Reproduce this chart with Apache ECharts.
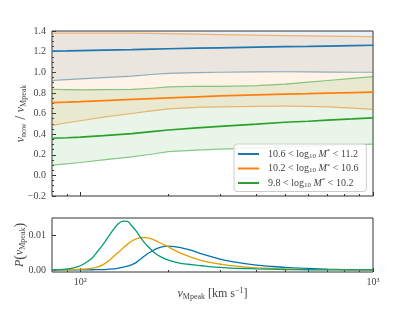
<!DOCTYPE html>
<html><head><meta charset="utf-8">
<script src="https://cdn.jsdelivr.net/npm/echarts@6/dist/echarts.min.js"></script>
<style>html,body{margin:0;padding:0;background:#fff}#c{width:415px;height:312px}</style>
</head><body><div id="c"></div>
<script>
// ---- data: top panel (v_now / v_Mpeak vs v_Mpeak) ----
const vGrid = [80, 90, 100, 120, 150, 175, 200, 250, 300, 400, 500, 600, 700, 850, 1000];
const blueUpper  = [1.5, 1.5, 1.5, 1.5, 1.5, 1.5, 1.5, 1.5, 1.5, 1.5, 1.5, 1.5, 1.5, 1.5, 1.5];
const blueMedian = [1.205, 1.207, 1.21, 1.215, 1.22, 1.225, 1.228, 1.233, 1.237, 1.243, 1.248, 1.251, 1.254, 1.258, 1.262];
const blueLower  = [0.92, 0.928, 0.935, 0.948, 0.963, 0.978, 0.99, 0.996, 1.0, 1.003, 1.005, 1.004, 1.002, 1.0, 1.0];
const orangeUpper  = [1.38, 1.38, 1.38, 1.38, 1.379, 1.377, 1.375, 1.37, 1.365, 1.36, 1.356, 1.353, 1.35, 1.347, 1.345];
const orangeMedian = [0.705, 0.71, 0.715, 0.725, 0.737, 0.745, 0.752, 0.762, 0.77, 0.78, 0.787, 0.792, 0.797, 0.803, 0.808];
const orangeLower  = [0.485, 0.51, 0.53, 0.565, 0.6, 0.625, 0.645, 0.66, 0.665, 0.67, 0.672, 0.67, 0.665, 0.652, 0.64];
const greenUpper  = [0.835, 0.832, 0.83, 0.832, 0.834, 0.845, 0.858, 0.864, 0.863, 0.87, 0.885, 0.905, 0.92, 0.94, 0.958];
const greenMedian = [0.36, 0.365, 0.37, 0.385, 0.405, 0.425, 0.44, 0.46, 0.475, 0.497, 0.515, 0.525, 0.535, 0.547, 0.558];
const greenLower  = [0.10, 0.112, 0.125, 0.15, 0.18, 0.205, 0.23, 0.245, 0.255, 0.265, 0.275, 0.282, 0.29, 0.297, 0.304];
const legendNames = ['10.6 < log10 M* < 11.2', '10.2 < log10 M* < 10.6', '9.8 < log10 M* < 10.2'];

// ---- data: bottom panel (P(v_Mpeak)) ----
const pGrid = [80, 85, 90, 95, 100, 105, 110, 115, 120, 125, 130, 135, 140, 145, 150, 155, 160, 165, 170, 180, 190, 200, 210, 220, 240, 260, 280, 300, 330, 360, 400, 450, 500, 600, 700, 800, 1000];
const pBlue   = [0, 0, 0, 0, 0, 0.00002, 0.00005, 0.00007, 0.0001, 0.0002, 0.0003, 0.0005, 0.0008, 0.0011, 0.0015, 0.0021, 0.003, 0.0039, 0.0047, 0.0059, 0.0066, 0.0068, 0.0067, 0.0064, 0.0056, 0.0046, 0.0038, 0.0031, 0.0024, 0.0019, 0.0014, 0.001, 0.0007, 0.0004, 0.0002, 0.0001, 0.00003];
const pOrange = [0, 0.00002, 0.00005, 0.0001, 0.0002, 0.0003, 0.0005, 0.0009, 0.0016, 0.0026, 0.0039, 0.0051, 0.0063, 0.0074, 0.0083, 0.0089, 0.0092, 0.0093, 0.0092, 0.0085, 0.0075, 0.0066, 0.0056, 0.0048, 0.0036, 0.0027, 0.0021, 0.0017, 0.0012, 0.0009, 0.0006, 0.0004, 0.0003, 0.00015, 0.00008, 0.00004, 0.00001];
const pGreen  = [0, 0.0001, 0.0003, 0.0006, 0.0012, 0.0022, 0.0035, 0.0055, 0.0075, 0.0097, 0.0117, 0.0133, 0.014, 0.0139, 0.0126, 0.0112, 0.0095, 0.008, 0.0068, 0.0048, 0.0036, 0.0028, 0.0023, 0.0019, 0.0015, 0.0012, 0.0009, 0.0007, 0.0005, 0.0004, 0.0003, 0.0002, 0.00012, 0.00005, 0.00002, 0.00001, 0];

// ---- ticks ----
const xMajor = [100, 1000];
const xMinor = [90, 200, 300, 400, 500, 600, 700, 800, 900];
const pTicks = [0, 0.01];

const FONT = 'Liberation Serif';
const TXT = '#444';
const rich = {
  v: {fontFamily: FONT, fontStyle: 'italic', fontSize: 12, color: TXT},
  n: {fontFamily: FONT, fontSize: 12, color: TXT},
  p: {fontFamily: FONT, fontSize: 14, color: TXT},
  sub: {fontFamily: FONT, fontSize: 8, color: TXT, padding: [5, 0, 0, 0]},
  sup: {fontFamily: FONT, fontSize: 8, color: TXT, padding: [0, 0, 6, 0]}
};
const legendRich = {
  t: {fontFamily: FONT, fontSize: 10, color: TXT},
  ti: {fontFamily: FONT, fontSize: 10, fontStyle: 'italic', color: TXT},
  ts: {fontFamily: FONT, fontSize: 7, color: TXT, padding: [4, 0, 0, 0]},
  tp: {fontFamily: FONT, fontSize: 7, color: TXT, padding: [0, 0, 5, 0]}
};

const zip = (xs, ys) => xs.map((x, i) => [x, ys[i]]);
const zip3 = (xs, a, b) => xs.map((x, i) => [x, a[i], b[i]]);
const topColors = ['#1f77b4', '#ff7f0e', '#2ca02c'];
const fade = ['rgba(31,119,180,0.55)', 'rgba(255,127,14,0.55)', 'rgba(44,160,44,0.55)'];
const fill = ['rgba(31,119,180,0.1)', 'rgba(255,127,14,0.1)', 'rgba(44,160,44,0.1)'];
const groups = [[blueUpper, blueMedian, blueLower], [orangeUpper, orangeMedian, orangeLower], [greenUpper, greenMedian, greenLower]];

function bandRenderer(k) {
  return function (params, api) {
    if (params.dataIndexInside !== 0) return null;
    const n = params.dataInsideLength;
    const up = [], lo = [];
    for (let i = 0; i < n; i++) {
      lo.push(api.coord([api.value(0, i), api.value(1, i)]));
      up.push(api.coord([api.value(0, i), api.value(2, i)]));
    }
    const cs = params.coordSys;
    return {
      type: 'group',
      clipPath: {type: 'rect', shape: {x: cs.x, y: cs.y, width: cs.width, height: cs.height}},
      children: [
        {type: 'polygon', shape: {points: up.concat(lo.slice().reverse())}, style: {fill: fill[k]}},
        {type: 'polyline', shape: {points: up}, style: {stroke: fade[k], lineWidth: 1.2, fill: null}},
        {type: 'polyline', shape: {points: lo}, style: {stroke: fade[k], lineWidth: 1.2, fill: null}}
      ]
    };
  };
}

const series = [];
groups.forEach((g, k) => {
  series.push({type: 'custom', name: 'band' + k, xAxisIndex: 0, yAxisIndex: 0, silent: true,
    data: zip3(vGrid, g[2], g[0]), encode: {x: 0, y: [1, 2]}, renderItem: bandRenderer(k), z: 2});
});
groups.forEach((g, k) => {
  series.push({type: 'line', name: legendNames[k], xAxisIndex: 0, yAxisIndex: 0, symbol: 'none',
    data: zip(vGrid, g[1]), color: topColors[k], lineStyle: {color: topColors[k], width: 1.7}, z: 3});
});
const pColors = ['#0072B2', '#E69F00', '#009E73'];
[pBlue, pOrange, pGreen].forEach((p, k) => {
  series.push({type: 'line', name: 'p' + k, xAxisIndex: 2, yAxisIndex: 1, symbol: 'none', smooth: 0.3,
    data: zip(pGrid, p), lineStyle: {color: pColors[k], width: 1.3}, z: 3});
});

function xAx(grid, ticks, len, labels, name) {
  return {
    type: 'log', logBase: 10, gridIndex: grid, min: 80, max: 1000, position: 'bottom',
    axisLine: {show: false, onZero: false},
    axisTick: {show: true, inside: true, length: len, customValues: ticks, lineStyle: {color: '#333', width: 1}},
    axisLabel: labels ? {show: true, customValues: xMajor, margin: 5, fontFamily: FONT, fontSize: 10, color: TXT,
      formatter: v => v < 500 ? '10²' : '10³'} : {show: false},
    splitLine: {show: false}, minorTick: {show: false},
    name: name || '', nameLocation: 'middle', nameGap: 15, nameMoveOverlap: false,
    nameTextStyle: {rich: rich}
  };
}

const legendText = {
  [legendNames[0]]: '{t|10.6 < log}{ts|10}{t| }{ti|M}{tp|*}{t| < 11.2}',
  [legendNames[1]]: '{t|10.2 < log}{ts|10}{t| }{ti|M}{tp|*}{t| < 10.6}',
  [legendNames[2]]: '{t|9.8 < log}{ts|10}{t| }{ti|M}{tp|*}{t| < 10.2}'
};

const option = {
  animation: false,
  backgroundColor: '#fff',
  grid: [
    {left: 52, right: 42, top: 31, height: 165, show: true, borderColor: '#333', borderWidth: 1, backgroundColor: 'transparent'},
    {left: 52, right: 42, top: 218, height: 54, show: true, borderColor: '#333', borderWidth: 1, backgroundColor: 'transparent'}
  ],
  xAxis: [
    xAx(0, xMajor, 4, false),
    xAx(0, xMinor, 2, false),
    xAx(1, xMajor, 4, true, '{v|v}{sub|Mpeak}{n| [km s}{sup|−1}{n|]}'),
    xAx(1, xMinor, 2, false)
  ],
  yAxis: [
    {type: 'value', gridIndex: 0, min: -0.2, max: 1.4, interval: 0.2, position: 'left',
      axisLine: {show: false, onZero: false},
      axisTick: {show: true, inside: true, length: 4, lineStyle: {color: '#333'}},
      minorTick: {show: true, splitNumber: 4, length: 2, lineStyle: {color: '#333'}},
      axisLabel: {fontFamily: FONT, fontSize: 10, color: TXT, margin: 6,
        formatter: v => (v < 0 ? '−' : '') + Math.abs(v).toFixed(1)},
      splitLine: {show: false},
      name: '{v|v}{sub|now}{p| / }{v|v}{sub|Mpeak}', nameLocation: 'middle', nameRotate: 90, nameGap: 24,
      nameMoveOverlap: false,
      nameTextStyle: {rich: rich}},
    {type: 'value', gridIndex: 1, min: -0.0006, max: 0.0149, position: 'left',
      axisLine: {show: false, onZero: false},
      axisTick: {show: true, inside: true, length: 4, customValues: pTicks, lineStyle: {color: '#333'}},
      axisLabel: {fontFamily: FONT, fontSize: 10, color: TXT, margin: 6, customValues: pTicks,
        formatter: v => v.toFixed(2)},
      splitLine: {show: false},
      name: '{v|P}{p|(}{v|v}{sub|Mpeak}{p|)}', nameLocation: 'middle', nameRotate: 90, nameGap: 25,
      nameMoveOverlap: false,
      nameTextStyle: {rich: rich}}
  ],
  legend: {
    data: legendNames, orient: 'vertical', left: 234, top: 144,
    icon: 'rect', itemWidth: 21, itemHeight: 2, itemGap: 3,
    padding: [4, 8, 3, 4],
    backgroundColor: 'rgba(255,255,255,0.85)', borderColor: '#ccc', borderWidth: 1, borderRadius: 3,
    formatter: n => legendText[n],
    textStyle: {rich: legendRich, fontFamily: FONT, fontSize: 10, color: TXT, padding: [0, 0, 0, 4]},
    selectedMode: false
  },
  series: series
};
const chart = echarts.init(document.getElementById('c'), null, {renderer: 'canvas'});
chart.setOption(option);
</script></body></html>
